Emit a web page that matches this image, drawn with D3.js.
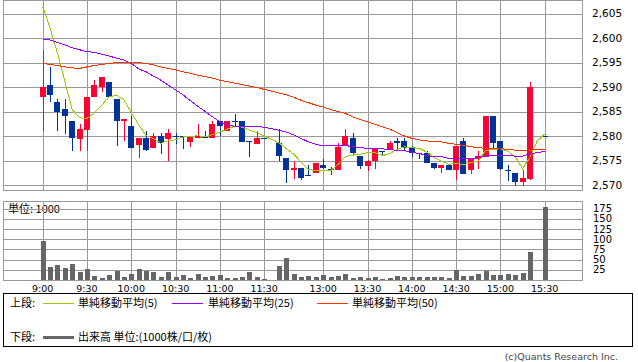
<!DOCTYPE html>
<html>
<head>
<meta charset="utf-8">
<script src="https://cdn.jsdelivr.net/npm/d3@7"></script>
<style>
  body { margin: 0; background: #fff; }
  text { font-family: 'DejaVu Sans', sans-serif; fill: #000; }
  .jp { font-family: 'Noto Sans CJK JP', sans-serif; }
</style>
</head>
<body>
<svg id="chart" width="638" height="362"></svg>
<script>
'use strict';

// 5-minute bars, 15:25 has no trade (closing auction at 15:30)
var times = [
  '9:00','9:05','9:10','9:15','9:20','9:25','9:30','9:35','9:40','9:45','9:50','9:55',
  '10:00','10:05','10:10','10:15','10:20','10:25','10:30','10:35','10:40','10:45','10:50','10:55',
  '11:00','11:05','11:10','11:15','11:20','11:25','11:30',
  '12:30','12:35','12:40','12:45','12:50','12:55',
  '13:00','13:05','13:10','13:15','13:20','13:25','13:30','13:35','13:40','13:45','13:50','13:55',
  '14:00','14:05','14:10','14:15','14:20','14:25','14:30','14:35','14:40','14:45','14:50','14:55',
  '15:00','15:05','15:10','15:15','15:20','15:25','15:30'
];

var opens = [
  2588, 2590.5, 2587, 2585.5, 2583, 2579.5, 2581.3, 2588, 2590, 2591, 2587.5, 2583,
  2582, 2578, 2579.5, 2577.5, 2580, 2579.4, 2580, 2580, 2578.8, 2579.5, 2580, 2579.5,
  2583, 2581, 2583, 2583, 2579, 2578.4, 2579.6,
  2578.5, 2575.5, 2573, 2573.5, 2572, 2572.4,
  2574, 2573.3, 2573, 2578, 2579.5, 2576, 2574, 2575, 2577, 2577.3, 2579, 2579,
  2577.5, 2576.5, 2576.5, 2574.4, 2573.3, 2574, 2573, 2579, 2573, 2575.2, 2575.8, 2584,
  2579, 2573, 2572.4, 2570.5, 2571.3, null, 2580
];
var highs = [
  2597.5, 2594, 2587.5, 2587.5, 2583, 2582.5, 2588, 2591.5, 2592, 2591, 2587.5, 2583.5,
  2584, 2579.5, 2581, 2580.7, 2580.7, 2581.4, 2580.7, 2580, 2580, 2582.4, 2581, 2583,
  2583, 2583, 2584.4, 2583, 2579, 2581, 2579.6,
  2581.4, 2575.5, 2575, 2573.5, 2574, 2574.5,
  2575.4, 2573.7, 2578.5, 2581.4, 2580.7, 2576, 2575.1, 2577.6, 2577, 2579, 2579.5, 2579.6,
  2578, 2576.5, 2577, 2574.4, 2574, 2574, 2578, 2579.5, 2575.5, 2577, 2584, 2584,
  2579, 2574, 2572.4, 2573, 2591, null, 2580
];
var lows = [
  2581, 2587, 2581, 2580.5, 2577, 2577, 2577, 2588, 2589, 2588, 2578, 2579,
  2577.5, 2575.5, 2577, 2577.5, 2576.3, 2575, 2578.3, 2577.3, 2577.8, 2579.5, 2579.5, 2579.5,
  2580, 2581, 2582, 2578.8, 2575.8, 2578.4, 2579.6,
  2575, 2570.5, 2571.3, 2571, 2571.8, 2572.4,
  2573.3, 2572, 2573, 2578, 2576.4, 2573.3, 2572.9, 2573.2, 2576.2, 2577.3, 2577.1, 2577,
  2575.8, 2575.4, 2574.4, 2573.3, 2572.4, 2573, 2571, 2572.3, 2572.3, 2573.3, 2575.8, 2577.3,
  2573, 2570.9, 2569.8, 2569.8, 2571, null, 2580
];
var closes = [
  2590, 2588.5, 2585, 2584, 2579.5, 2581.5, 2588, 2590.5, 2592, 2588, 2583, 2583.5,
  2577.5, 2579.5, 2577, 2580, 2578.6, 2580.6, 2580, 2579.7, 2580, 2580, 2579.5, 2582.4,
  2582, 2583, 2583, 2578.8, 2579, 2579.6, 2579.6,
  2575.8, 2573, 2573.5, 2571.5, 2572, 2574.5,
  2573.3, 2573.3, 2577.7, 2580, 2576.4, 2574, 2575, 2577.6, 2577, 2578.5, 2578.5, 2577.5,
  2576.5, 2576.5, 2574.4, 2573.3, 2574, 2573, 2578, 2572.3, 2575.5, 2575.9, 2584, 2578.4,
  2573.3, 2573, 2570.5, 2571.4, 2590, null, 2580
];
// volume, unit 1000
var volumes = [
  96, 33, 37, 30, 39, 20, 27, 10.5, 6, 12, 23, 8,
  15, 27, 22, 20, 8, 20, 8, 12, 6, 15, 8, 10.5,
  12, 6, 6, 8, 20, 8, 1.5,
  35, 55, 15, 8, 10, 7,
  12, 7, 10, 14, 5, 7, 5, 7, 2.5, 5, 10, 7,
  7, 7, 7, 7, 7, 5, 25, 11, 11, 15, 22, 12,
  12, 15, 12, 17, 69, null, 179
];
var ma5 = [
  2606.4, 2602, 2596.9, 2591.1, 2585.4, 2583.7, 2583.6, 2584.7, 2586.3, 2588, 2588.3, 2587.4,
  2584.8, 2582.3, 2580.1, 2579.5, 2578.5, 2579.1, 2579.2, 2579.8, 2579.8, 2580.1, 2579.8, 2580.3,
  2580.8, 2581.4, 2582, 2581.8, 2581.2, 2580.7, 2580,
  2578.6, 2577.4, 2576.3, 2574.7, 2573.2, 2572.9,
  2573, 2572.9, 2574.2, 2575.8, 2576.1, 2576.3, 2576.6, 2576.6, 2576, 2576.4, 2577.3, 2577.8,
  2577.6, 2577.5, 2576.7, 2575.6, 2574.9, 2574.2, 2574.5, 2574.1, 2574.6, 2574.9, 2577.1, 2577.2,
  2577.4, 2576.9, 2575.8, 2573.3, 2575.6, 2579, 2580.4
];
var ma25 = [
  2599.8, 2599.6, 2599.1, 2598.6, 2598, 2597.6, 2597.2, 2597.1, 2596.7, 2596.3, 2595.9, 2595.5,
  2594.8, 2593.7, 2593.1, 2592.2, 2591.4, 2590.4, 2589.4, 2588.4, 2587.2, 2586.1, 2585, 2583.9,
  2582.9, 2582.2, 2582, 2581.9, 2581.9, 2581.9, 2581.8,
  2581.2, 2580.8, 2580.2, 2579.5, 2578.8, 2578.3,
  2578, 2578, 2578, 2578, 2577.9, 2577.6, 2577.5, 2577.4, 2577.4, 2577.2, 2577.1, 2577,
  2576.7, 2576.4, 2576, 2575.8, 2575.8, 2575.4, 2575.4, 2575.4, 2575.4, 2575.6, 2575.8, 2576.1,
  2576.1, 2576, 2575.9, 2575.9, 2576.4, 2576.6, 2576.9
];
var ma50 = [
  2594.8, 2594.6, 2594.4, 2594.1, 2593.9, 2593.8, 2594.1, 2594.4, 2594.6, 2594.8, 2595, 2595,
  2595, 2595, 2594.8, 2594.5, 2594.1, 2593.8, 2593.5, 2593.1, 2592.8, 2592.4, 2592.1, 2591.8,
  2591.4, 2591.1, 2590.8, 2590.5, 2590.2, 2589.9, 2589.5,
  2588.8, 2588.4, 2587.9, 2587.3, 2586.8, 2586.3,
  2585.9, 2585.4, 2585, 2584.6, 2583.9, 2583.4, 2582.9, 2582.4, 2581.9, 2581.4, 2580.7, 2580,
  2579.5, 2579.2, 2579, 2578.9, 2578.8, 2578.5, 2578.3, 2578.1, 2577.8, 2577.6, 2577.5, 2577.5,
  2577.4, 2577.3, 2577.1, 2577, 2577.1, 2577.3, 2577.3
];

var tickTimes = ['9:00','9:30','10:00','10:30','11:00','11:30','13:00','13:30','14:00','14:30','15:00','15:30'];
var priceTicks = [2570, 2575, 2580, 2585, 2590, 2595, 2600, 2605];
var volumeTicks = [25, 50, 75, 100, 125, 150, 175];

var colors = {
  up: '#ff0033',
  down: '#003399',
  ma5: '#99cc00',
  ma25: '#9900ff',
  ma50: '#ff3300',
  volume: '#666666',
  grid: '#999999'
};

/**
 * Session-aware slot index: morning 9:00-11:30, afternoon from 12:30
 * with the lunch break squeezed to one empty slot.
 */
function toSlot(t) {
  var p = t.split(':'), m = +p[0] * 60 + +p[1];
  return m <= 690 ? (m - 540) / 5 : (m - 750) / 5 + 32;
}

var svg = d3.select('#chart');
var left = 3.5, right = 582.5;

var x = d3.scaleLinear().domain([0, 68]).range([42.7, 544.7]);
var yP = d3.scaleLinear().domain([2570, 2605]).range([185, 13.5]);
var yV = d3.scaleLinear().domain([0, 175]).range([280, 208.6]);

function crisp(v) { return Math.round(v) + 0.5; }

var rows = times.map(function(t, i) {
  return {
    slot: toSlot(t), o: opens[i], h: highs[i], l: lows[i], c: closes[i],
    v: volumes[i], ma5: ma5[i], ma25: ma25[i], ma50: ma50[i]
  };
});
var bars = rows.filter(function(d) { return d.o != null; });

// ---- price panel grid ----
var grid = svg.append('g').attr('stroke', colors.grid).attr('stroke-width', 1);

grid.selectAll('.hp').data(priceTicks).enter().append('line')
  .attr('x1', left).attr('x2', right)
  .attr('y1', function(d) { return crisp(yP(d)); })
  .attr('y2', function(d) { return crisp(yP(d)); });

grid.selectAll('.vp').data(tickTimes).enter().append('line')
  .attr('x1', function(d) { return crisp(x(toSlot(d))); })
  .attr('x2', function(d) { return crisp(x(toSlot(d))); })
  .attr('y1', 0.5).attr('y2', 190.5);

grid.append('rect').attr('x', left).attr('y', 0.5)
  .attr('width', right - left).attr('height', 190).attr('fill', 'none');

// price labels
svg.append('g').selectAll('text').data(priceTicks).enter().append('text')
  .attr('x', 592).attr('y', function(d) { return yP(d); })
  .attr('dy', '0.36em').style('font-size', '10.5px')
  .text(d3.format(','));

// ---- candles ----
var candles = svg.append('g').selectAll('g').data(bars).enter().append('g')
  .attr('fill', function(d) { return d.c > d.o ? colors.up : colors.down; })
  .attr('stroke', function(d) { return d.c > d.o ? colors.up : colors.down; });

candles.append('line')
  .attr('x1', function(d) { return crisp(x(d.slot)); })
  .attr('x2', function(d) { return crisp(x(d.slot)); })
  .attr('y1', function(d) { return Math.round(yP(d.h)); })
  .attr('y2', function(d) { return Math.round(yP(d.l)); });

candles.append('rect')
  .attr('stroke', 'none')
  .attr('x', function(d) { return Math.round(x(d.slot)) - 3; })
  .attr('width', 6)
  .attr('y', function(d) { return Math.round(yP(Math.max(d.o, d.c))); })
  .attr('height', function(d) {
    return Math.max(1, Math.round(Math.abs(yP(d.o) - yP(d.c))));
  });

// ---- moving averages ----
[['ma5', colors.ma5], ['ma25', colors.ma25], ['ma50', colors.ma50]].forEach(function(s) {
  var line = d3.line()
    .defined(function(d) { return d[s[0]] != null; })
    .x(function(d) { return x(d.slot); })
    .y(function(d) { return yP(d[s[0]]); });
  svg.append('path').datum(rows)
    .attr('fill', 'none').attr('stroke', s[1]).attr('stroke-width', 1)
    .attr('shape-rendering', 'crispEdges')
    .attr('d', line);
});

// ---- volume panel ----
svg.append('text').attr('class', 'jp').attr('x', 8).attr('y', 213)
  .style('font-size', '11px').text('単位: 1000');

var vgrid = svg.append('g').attr('stroke', colors.grid).attr('stroke-width', 1);

vgrid.selectAll('line.h').data(volumeTicks.concat([0])).enter().append('line')
  .attr('x1', left).attr('x2', right)
  .attr('y1', function(d) { return crisp(yV(d)); })
  .attr('y2', function(d) { return crisp(yV(d)); });

vgrid.selectAll('line.v').data(tickTimes).enter().append('line')
  .attr('x1', function(d) { return crisp(x(toSlot(d))); })
  .attr('x2', function(d) { return crisp(x(toSlot(d))); })
  .attr('y1', 201.5).attr('y2', 280.5);

vgrid.append('rect').attr('x', left).attr('y', 201.5)
  .attr('width', right - left).attr('height', 79).attr('fill', 'none');

svg.append('g').selectAll('rect').data(bars).enter().append('rect')
  .attr('fill', colors.volume)
  .attr('x', function(d) { return Math.round(x(d.slot)) - 2; })
  .attr('width', 5)
  .attr('y', function(d) { return Math.round(yV(d.v)); })
  .attr('height', function(d) { return Math.max(1, 280 - Math.round(yV(d.v))); });

svg.append('g').selectAll('text').data(volumeTicks).enter().append('text')
  .attr('x', 593).attr('y', function(d) { return yV(d); })
  .attr('dy', '0.36em').style('font-size', '10px')
  .text(function(d) { return d; });

// time labels
svg.append('g').selectAll('text').data(tickTimes).enter().append('text')
  .attr('x', function(d) { return x(toSlot(d)); }).attr('y', 292)
  .attr('text-anchor', 'middle').style('font-size', '9.5px')
  .text(function(d) { return d; });

// ---- legend ----
var legend = svg.append('g');
legend.append('rect').attr('x', 3.5).attr('y', 293.5).attr('width', 629).attr('height', 53)
  .attr('fill', 'none').attr('stroke', '#000');

var legendItems = [
  { x: 43, tx: 78, label: '単純移動平均(5)', color: colors.ma5 },
  { x: 172, tx: 208, label: '単純移動平均(25)', color: colors.ma25 },
  { x: 317, tx: 352, label: '単純移動平均(50)', color: colors.ma50 }
];

legend.append('text').attr('class', 'jp').attr('x', 10).attr('y', 303)
  .attr('dy', '0.36em').style('font-size', '11px').text('上段:');
legendItems.forEach(function(d) {
  legend.append('line').attr('x1', d.x).attr('x2', d.x + 31)
    .attr('y1', 303.5).attr('y2', 303.5).attr('stroke', d.color);
  legend.append('text').attr('class', 'jp').attr('x', d.tx).attr('y', 303)
    .attr('dy', '0.36em').style('font-size', '11px').text(d.label);
});

legend.append('text').attr('class', 'jp').attr('x', 10).attr('y', 337)
  .attr('dy', '0.36em').style('font-size', '11px').text('下段:');
legend.append('line').attr('x1', 43).attr('x2', 74).attr('y1', 337.5).attr('y2', 337.5)
  .attr('stroke', colors.volume).attr('stroke-width', 3);
legend.append('text').attr('class', 'jp').attr('x', 78).attr('y', 337)
  .attr('dy', '0.36em').style('font-size', '11px').text('出来高 単位:(1000株/口/枚)');

svg.append('text').attr('x', 618).attr('y', 360).attr('text-anchor', 'end')
  .style('font-size', '9.5px').style('fill', '#444').text('(c)Quants Research Inc.');
</script>
</body>
</html>
